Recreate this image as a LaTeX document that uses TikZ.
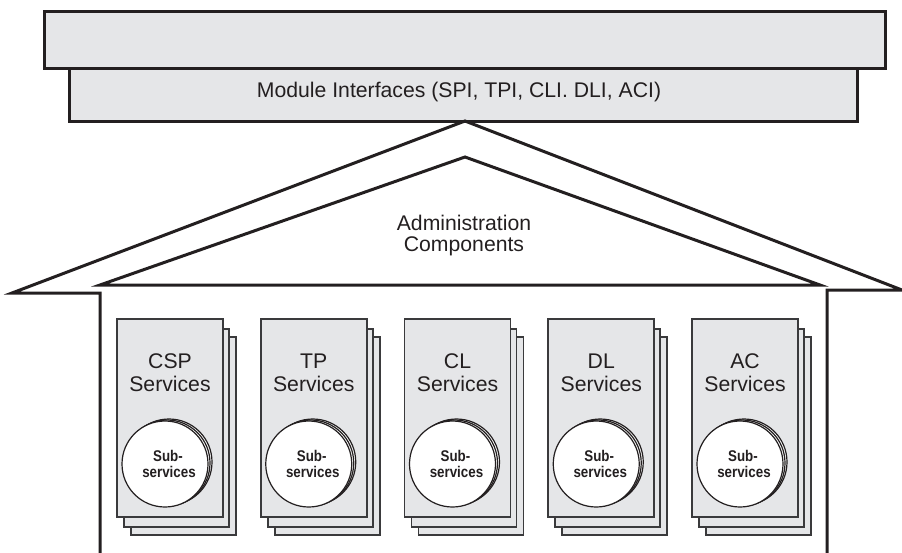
\documentclass[tikz,border=0pt]{standalone}
\usepackage{fontspec}
\setmainfont{Liberation Sans}
\definecolor{ink}{HTML}{231F20}
\definecolor{panel}{HTML}{E5E6E8}
\definecolor{boxline}{HTML}{3A3A3C}
\newcommand{\narrow}[1]{\scalebox{0.86}[1]{#1}}
\begin{document}
\begin{tikzpicture}[x=1pt,y=-1pt,
  thick/.style={draw=ink,line width=3pt},
  bigtext/.style={inner sep=0pt,anchor=base,text=ink,font=\fontsize{21.2}{23}\selectfont},
  subtext/.style={inner sep=0pt,anchor=base,text=ink,font=\fontsize{15.5}{17}\selectfont\bfseries},
  page/.style={draw=boxline,line width=1.8pt,fill=panel},
  disc/.style={draw=ink,line width=1.2pt,fill=white}]
\useasboundingbox (0,0) rectangle (902,552);
\clip (0,0) rectangle (902,552);
% top boxes
\node[thick,fill=panel,minimum width=788pt,minimum height=53pt,inner sep=0pt,anchor=north west] (mi) at (68,67) {};
\node[thick,fill=panel,minimum width=841pt,minimum height=57pt,inner sep=0pt,anchor=north west] (top) at (43,10) {};
\node[bigtext] (mitext) at (459,97) {Module Interfaces (SPI, TPI, CLI. DLI, ACI)};
% house outline
\coordinate (apex) at (465,121);
\coordinate (lt) at (12,293);
\coordinate (rt) at (902,290);
\draw[thick,line join=miter] (100,560) -- (100,293) -- (lt) -- (apex) -- (rt) -- (827,290) -- (827,560);
% inner roof
\coordinate (iapex) at (465,157);
\draw[thick,line join=miter] (100,285) -- (iapex) -- (820,285) -- cycle;
\node[bigtext] (adm1) at (464,230) {Administration};
\node[bigtext] (adm2) at (464,251) {Components};
% services
\foreach \name/\lab [count=\i from 0] in {CSP/CSP,TP/TP,CL/CL,DL/DL,AC/AC}{
  \pgfmathsetmacro{\xl}{117+143.75*\i}
  \draw[page] (\xl+14,337) rectangle (\xl+119,535);
  \draw[page] (\xl+7,329) rectangle (\xl+112,527);
  \draw[page] (\xl,319) rectangle (\xl+106,517);
  \draw[disc] (\xl+52,462) circle (43);
  \draw[disc] (\xl+50,463) circle (43);
  \draw[disc] (\xl+48,464) circle (43);
  \node[bigtext] (\name a) at (\xl+53,368) {\lab};
  \node[bigtext] (\name b) at (\xl+53,391) {Services};
  \node[subtext] (\name c) at (\xl+51,461) {\narrow{Sub-}};
  \node[subtext] (\name d) at (\xl+52,477) {\narrow{services}};
}
\end{tikzpicture}
\end{document}
